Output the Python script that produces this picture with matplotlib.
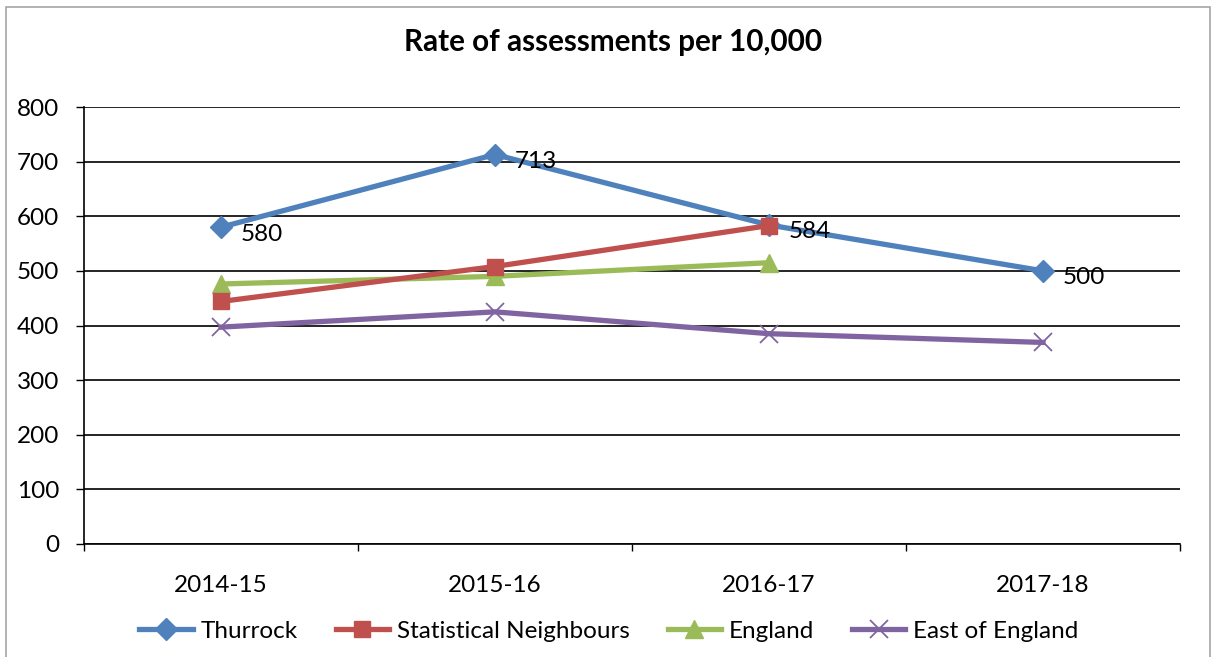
import matplotlib
matplotlib.use('Agg')
import matplotlib.pyplot as plt
import numpy as np
from matplotlib.patches import Rectangle

years = ['2014-15', '2015-16', '2016-17', '2017-18']
thurrock = [580, 713, 584, 500]
stat_neighbours = [444, 508, 583]
england = [476, 490, 515]
east_of_england = [397, 425, 385, 369]

plt.rcParams['font.family'] = ['Lato', 'DejaVu Sans']
FS = 17.5


def main():
    fig = plt.figure(figsize=(12.14, 6.57), dpi=100)
    ax = fig.add_axes([84 / 1214, 1 - 544 / 657, 1096 / 1214, 437 / 657])

    # chart border
    fig.patches.append(Rectangle((6 / 1214, -0.01), 1204 / 1214, 1 - 7 / 657 + 0.01,
                                 transform=fig.transFigure, fill=False,
                                 edgecolor='#a6a6a6', linewidth=1.2))

    x = np.arange(len(years))
    ax.plot(x, thurrock, color='#4F81BD', lw=3.8, marker='D', ms=11.5,
            label='Thurrock', zorder=3)
    ax.plot(x[:3], stat_neighbours, color='#C0504D', lw=3.8, marker='s', ms=12,
            label='Statistical Neighbours', zorder=4)
    ax.plot(x[:3], england, color='#9BBB59', lw=3.8, marker='^', ms=13,
            label='England', zorder=3)
    ax.plot(x, east_of_england, color='#8064A2', lw=3.8, marker='x', ms=13,
            mew=1.3, label='East of England', zorder=3)

    for xi, v in zip(x, thurrock):
        ax.annotate(str(v), (xi, v), xytext=(14, -5), textcoords='offset points',
                    ha='left', va='center', fontsize=FS, zorder=5)

    ax.set_xlim(-0.5, 3.5)
    ax.set_ylim(0, 800)
    ax.set_yticks(np.arange(0, 801, 100))
    ax.set_xticks(x)
    ax.set_xticklabels(years)
    ax.set_xticks(np.arange(-0.5, 3.6, 1), minor=True)
    ax.tick_params(axis='x', which='major', length=0, pad=22, labelsize=FS)
    ax.tick_params(axis='x', which='minor', length=5, direction='out', width=1)
    ax.tick_params(axis='y', length=6, width=1, labelsize=FS, pad=12)
    ax.yaxis.grid(True, color='black', lw=1.2)
    ax.set_axisbelow(True)
    for s in ['top', 'right']:
        ax.spines[s].set_visible(False)
    ax.spines['left'].set_linewidth(1.2)
    ax.spines['bottom'].set_linewidth(1.2)

    fig.text(613 / 1214, 1 - 42 / 657, 'Rate of assessments per 10,000',
             ha='center', va='center', fontsize=21.3, fontweight='bold')

    fig.legend(loc='center', bbox_to_anchor=(609 / 1214, 1 - 631 / 657), ncol=4,
               frameon=False, fontsize=FS, handlelength=2.2, columnspacing=1.55,
               handletextpad=0.33)

    fig.savefig('out.png', dpi=100)


if __name__ == '__main__':
    main()
